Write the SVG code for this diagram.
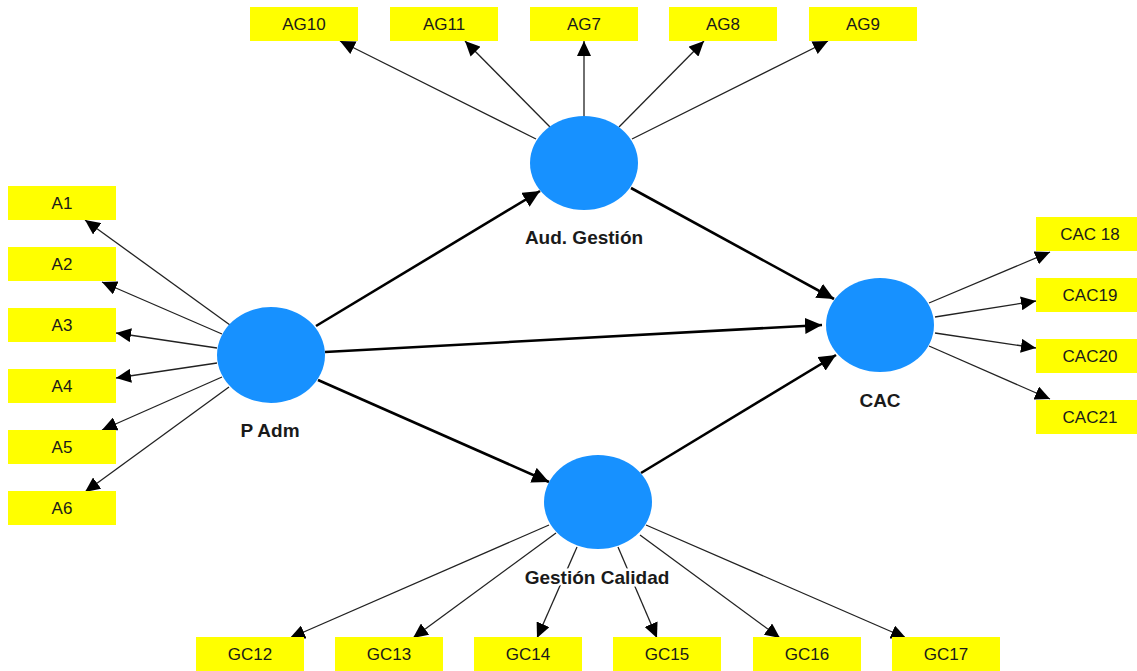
<svg xmlns="http://www.w3.org/2000/svg" width="1137" height="671" viewBox="0 0 1137 671">
<style>
.box{fill:#ffff00}
.bt{font-family:"Liberation Sans",Arial,sans-serif;font-size:17px;fill:#1a1a1a;text-anchor:middle;dominant-baseline:central}
.lv{fill:#1791ff}
.lt{font-family:"Liberation Sans",Arial,sans-serif;font-size:19px;font-weight:bold;fill:#1a1a1a;text-anchor:middle;dominant-baseline:central;stroke:#fff;stroke-width:5;paint-order:stroke}
.thin{stroke:#222;stroke-width:1.3;fill:none;marker-end:url(#ah)}
.thick{stroke:#000;stroke-width:2.6;fill:none;marker-end:url(#ahb)}
</style>
<defs>
<marker id="ah" markerUnits="userSpaceOnUse" markerWidth="16" markerHeight="14" refX="15" refY="7" orient="auto" viewBox="0 0 16 14"><path d="M0,0 L15,7 L0,14 Z" fill="#000"/></marker>
<marker id="ahb" markerUnits="userSpaceOnUse" markerWidth="18" markerHeight="16" refX="17" refY="8" orient="auto" viewBox="0 0 18 16"><path d="M0,0 L17,8 L0,16 Z" fill="#000"/></marker>
</defs>
<rect width="1137" height="671" fill="#fff"/>
<g id="connectors">
<line class="thin" x1="230" y1="325" x2="85" y2="220"/>
<line class="thin" x1="222" y1="334" x2="102" y2="282"/>
<line class="thin" x1="217" y1="348" x2="116" y2="333"/>
<line class="thin" x1="217" y1="363" x2="116" y2="378"/>
<line class="thin" x1="222" y1="377" x2="102" y2="430"/>
<line class="thin" x1="229" y1="387" x2="85" y2="492"/>
<line class="thin" x1="536" y1="139" x2="340" y2="41"/>
<line class="thin" x1="550" y1="127" x2="465" y2="41"/>
<line class="thin" x1="584" y1="116" x2="584" y2="41"/>
<line class="thin" x1="619" y1="127" x2="704" y2="41"/>
<line class="thin" x1="632" y1="139" x2="828" y2="41"/>
<line class="thin" x1="929" y1="303" x2="1050" y2="252"/>
<line class="thin" x1="935" y1="317" x2="1036" y2="301"/>
<line class="thin" x1="935" y1="333" x2="1036" y2="348"/>
<line class="thin" x1="929" y1="346" x2="1050" y2="399"/>
<line class="thin" x1="549" y1="525" x2="290" y2="638"/>
<line class="thin" x1="556" y1="533" x2="413" y2="638"/>
<line class="thin" x1="577" y1="547" x2="537" y2="638"/>
<line class="thin" x1="618" y1="547" x2="657" y2="638"/>
<line class="thin" x1="640" y1="535" x2="780" y2="638"/>
<line class="thin" x1="646" y1="525" x2="906" y2="638"/>
<line class="thick" x1="316" y1="326" x2="540" y2="191"/>
<line class="thick" x1="325" y1="352" x2="822" y2="325"/>
<line class="thick" x1="318" y1="380" x2="549" y2="482"/>
<line class="thick" x1="631" y1="188" x2="834" y2="299"/>
<line class="thick" x1="641" y1="473" x2="836" y2="355"/>
</g>
<g id="PAdm"><ellipse class="lv" cx="271" cy="355" rx="54" ry="48"/><text class="lt" x="270" y="430">P Adm</text></g>
<g id="AudGestion"><ellipse class="lv" cx="584" cy="163" rx="54" ry="47"/><text class="lt" x="584" y="237">Aud. Gestión</text></g>
<g id="CAC"><ellipse class="lv" cx="880" cy="325" rx="54" ry="47"/><text class="lt" x="880" y="400">CAC</text></g>
<g id="GestionCalidad"><ellipse class="lv" cx="598" cy="502" rx="54" ry="47"/><text class="lt" x="597" y="577">Gestión Calidad</text></g>
<g id="A1"><rect class="box" x="8" y="186" width="108" height="34"/><text class="bt" x="62" y="203">A1</text></g>
<g id="A2"><rect class="box" x="8" y="247" width="108" height="34"/><text class="bt" x="62" y="264">A2</text></g>
<g id="A3"><rect class="box" x="8" y="308" width="108" height="34"/><text class="bt" x="62" y="325">A3</text></g>
<g id="A4"><rect class="box" x="8" y="369" width="108" height="34"/><text class="bt" x="62" y="386">A4</text></g>
<g id="A5"><rect class="box" x="8" y="430" width="108" height="34"/><text class="bt" x="62" y="447">A5</text></g>
<g id="A6"><rect class="box" x="8" y="491" width="108" height="34"/><text class="bt" x="62" y="508">A6</text></g>
<g id="AG10"><rect class="box" x="250" y="7" width="108" height="34"/><text class="bt" x="304" y="24">AG10</text></g>
<g id="AG11"><rect class="box" x="390" y="7" width="108" height="34"/><text class="bt" x="444" y="24">AG11</text></g>
<g id="AG7"><rect class="box" x="530" y="7" width="108" height="34"/><text class="bt" x="584" y="24">AG7</text></g>
<g id="AG8"><rect class="box" x="669" y="7" width="108" height="34"/><text class="bt" x="723" y="24">AG8</text></g>
<g id="AG9"><rect class="box" x="809" y="7" width="108" height="34"/><text class="bt" x="863" y="24">AG9</text></g>
<g id="CAC18"><rect class="box" x="1036" y="217" width="101" height="34"/><text class="bt" x="1090" y="234">CAC 18</text></g>
<g id="CAC19"><rect class="box" x="1036" y="278" width="101" height="34"/><text class="bt" x="1090" y="295">CAC19</text></g>
<g id="CAC20"><rect class="box" x="1036" y="339" width="101" height="34"/><text class="bt" x="1090" y="356">CAC20</text></g>
<g id="CAC21"><rect class="box" x="1036" y="400" width="101" height="34"/><text class="bt" x="1090" y="417">CAC21</text></g>
<g id="GC12"><rect class="box" x="196" y="637" width="108" height="34"/><text class="bt" x="250" y="654">GC12</text></g>
<g id="GC13"><rect class="box" x="335" y="637" width="108" height="34"/><text class="bt" x="389" y="654">GC13</text></g>
<g id="GC14"><rect class="box" x="474" y="637" width="108" height="34"/><text class="bt" x="528" y="654">GC14</text></g>
<g id="GC15"><rect class="box" x="613" y="637" width="108" height="34"/><text class="bt" x="667" y="654">GC15</text></g>
<g id="GC16"><rect class="box" x="753" y="637" width="108" height="34"/><text class="bt" x="807" y="654">GC16</text></g>
<g id="GC17"><rect class="box" x="892" y="637" width="108" height="34"/><text class="bt" x="946" y="654">GC17</text></g>
</svg>
